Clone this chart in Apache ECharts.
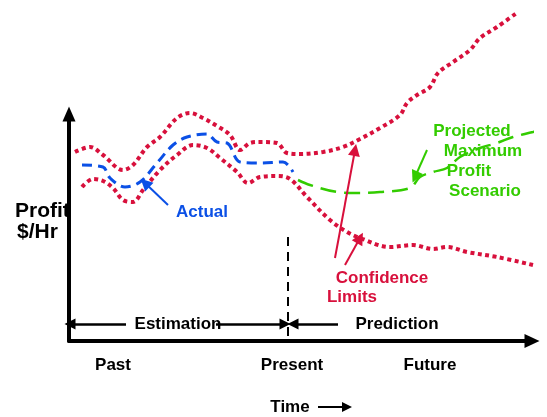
<!DOCTYPE html>
<html>
<head>
<meta charset="utf-8">
<script src="https://cdn.jsdelivr.net/npm/echarts@6/dist/echarts.min.js"></script>
<style>
  html, body { margin: 0; padding: 0; background: #fff; }
  #chart { width: 547px; height: 417px; }
</style>
</head>
<body>
<div id="chart"></div>
<script>
// time runs left to right, profit bottom to top (arbitrary units)
const upperLimit = [[6,189],[21,194],[34,186],[54,171],[64,176],[78,194],[91,204],[108,223],[121,228],[134,223],[148,215],[161,206],[171,191],[181,198],[191,199],[208,198],[218,188],[231,187],[254,189],[274,194],[291,202],[311,213],[331,226],[338,238],[348,246],[361,254],[369,268],[384,279],[401,291],[411,303],[428,314],[449,329]];
const lowerLimit = [[13,154],[24,162],[34,160],[44,153],[54,141],[64,139],[74,151],[91,171],[108,186],[124,196],[138,193],[151,183],[168,169],[179,158],[191,164],[208,165],[221,162],[238,144],[261,121],[278,109],[291,103],[321,94],[344,96],[364,92],[378,94],[398,89],[428,84],[464,76]];
const actual = [[13,176],[34,174],[41,163],[56,154],[71,159],[88,178],[104,196],[118,204],[138,207],[148,199],[158,198],[171,179],[191,178],[214,179],[224,169]];
const projected = [[229,161],[241,156],[268,149],[288,148],[311,149],[341,153],[351,164],[364,169],[378,173],[391,184],[411,193],[428,198],[444,204],[464,209],[478,213]];

const timeTicks = [44, 223, 361];
const timeLabels = ['Past', 'Present', 'Future'];
const presentAt = 219;

const RED = '#d8103c';
const BLUE = '#0b50e6';
const GREEN = '#33cc00';
const FONT = '"Liberation Sans", Arial, sans-serif';

function arrow(from, to, color, width, size) {
  return [
    { coord: from, symbol: 'none', symbolSize: size, lineStyle: { color: color, width: width, type: 'solid' } },
    { coord: to, symbol: 'triangle', symbolSize: size, lineStyle: { color: color, width: width, type: 'solid' } }
  ];
}
function halfArrow(from, to, size, atStart) {
  return [
    { coord: from, symbol: atStart ? 'triangle' : 'none', symbolSize: size, lineStyle: { color: '#000', width: 2.5, type: 'solid' } },
    { coord: to, symbol: atStart ? 'none' : 'triangle', symbolSize: size, lineStyle: { color: '#000', width: 2.5, type: 'solid' } }
  ];
}

function text(x, y, str, color, size, align) {
  return {
    type: 'text', x: x, y: y, z: 100,
    style: {
      text: str, fill: color, font: 'bold ' + size + 'px ' + FONT,
      textAlign: align || 'center', textVerticalAlign: 'middle'
    }
  };
}

const option = {
  animation: false,
  backgroundColor: '#fff',
  grid: { left: 69, right: 15, top: 114, bottom: 76 },
  xAxis: {
    type: 'value', min: 0, max: 463,
    axisLine: { show: true, symbol: ['none', 'triangle'], symbolSize: [14, 15], lineStyle: { color: '#000', width: 4 } },
    axisTick: { show: false },
    splitLine: { show: false },
    axisLabel: {
      customValues: timeTicks,
      formatter: function (v) { return timeLabels[timeTicks.indexOf(v)]; },
      color: '#000', fontWeight: 'bold', fontSize: 17, fontFamily: FONT, margin: 16
    }
  },
  yAxis: {
    type: 'value', min: 0, max: 227,
    axisLine: { show: true, symbol: ['none', 'triangle'], symbolSize: [13, 15], lineStyle: { color: '#000', width: 4 } },
    axisTick: { show: false },
    splitLine: { show: false },
    axisLabel: { show: false }
  },
  series: [
    {
      name: 'Upper limit', type: 'line', data: upperLimit, smooth: 0.35, clip: false,
      showSymbol: false, lineStyle: { color: RED, width: 4, type: [4, 3.5], cap: 'butt' }
    },
    {
      name: 'Lower limit', type: 'line', data: lowerLimit, smooth: 0.35, clip: false,
      showSymbol: false, lineStyle: { color: RED, width: 4, type: [4, 3.5], cap: 'butt' }
    },
    {
      name: 'Actual', type: 'line', data: actual, smooth: 0.35, clip: false,
      showSymbol: false, lineStyle: { color: BLUE, width: 3, type: [10, 6] }
    },
    {
      name: 'Projected', type: 'line', data: projected, smooth: 0.35, clip: false,
      showSymbol: false, lineStyle: { color: GREEN, width: 2.5, type: [16, 8] }
    },
    {
      name: 'notes', type: 'line', data: [], clip: false, z: 5,
      markLine: {
        silent: true, animation: false,
        label: { show: false },
        data: [
          arrow([99, 136], [76, 158], BLUE, 2, 12),
          arrow([266, 83], [286, 191], RED, 2, 12),
          arrow([276, 76], [291, 103], RED, 2, 12),
          arrow([358, 191], [346, 164], GREEN, 2, 12),
          halfArrow([1, 17], [57, 17], 11, true),
          halfArrow([147, 17], [216, 17], 11, false),
          halfArrow([224, 17], [269, 17], 11, true),
          halfArrow([386, 17], [468, 17], 11, false),
          [
            { coord: [presentAt, 104], symbol: 'none', lineStyle: { color: '#000', width: 2, type: [9, 6] } },
            { coord: [presentAt, 0], symbol: 'none' }
          ]
        ]
      }
    }
  ],
  graphic: [
    text(15, 211, 'Profit', '#000', 21, 'left'),
    text(17, 232, '$/Hr', '#000', 21, 'left'),
    text(202, 212, 'Actual', BLUE, 17),
    text(382, 278, 'Confidence', RED, 17),
    text(352, 297, 'Limits', RED, 17),
    text(472, 131, 'Projected', GREEN, 17),
    text(483, 151, 'Maximum', GREEN, 17),
    text(469, 171, 'Profit', GREEN, 17),
    text(485, 191, 'Scenario', GREEN, 17),
    text(178, 324, 'Estimation', '#000', 17),
    text(397, 324, 'Prediction', '#000', 17),
    text(290, 407, 'Time', '#000', 17),
    { type: 'line', z: 100, shape: { x1: 318, y1: 407, x2: 344, y2: 407 }, style: { stroke: '#000', lineWidth: 2 } },
    { type: 'polygon', z: 100, shape: { points: [[342, 402], [352, 407], [342, 412]] }, style: { fill: '#000' } }
  ]
};

const myChart = echarts.init(document.getElementById('chart'));
myChart.setOption(option);
window.addEventListener('resize', function () {
  myChart.resize();
});
</script>
</body>
</html>
